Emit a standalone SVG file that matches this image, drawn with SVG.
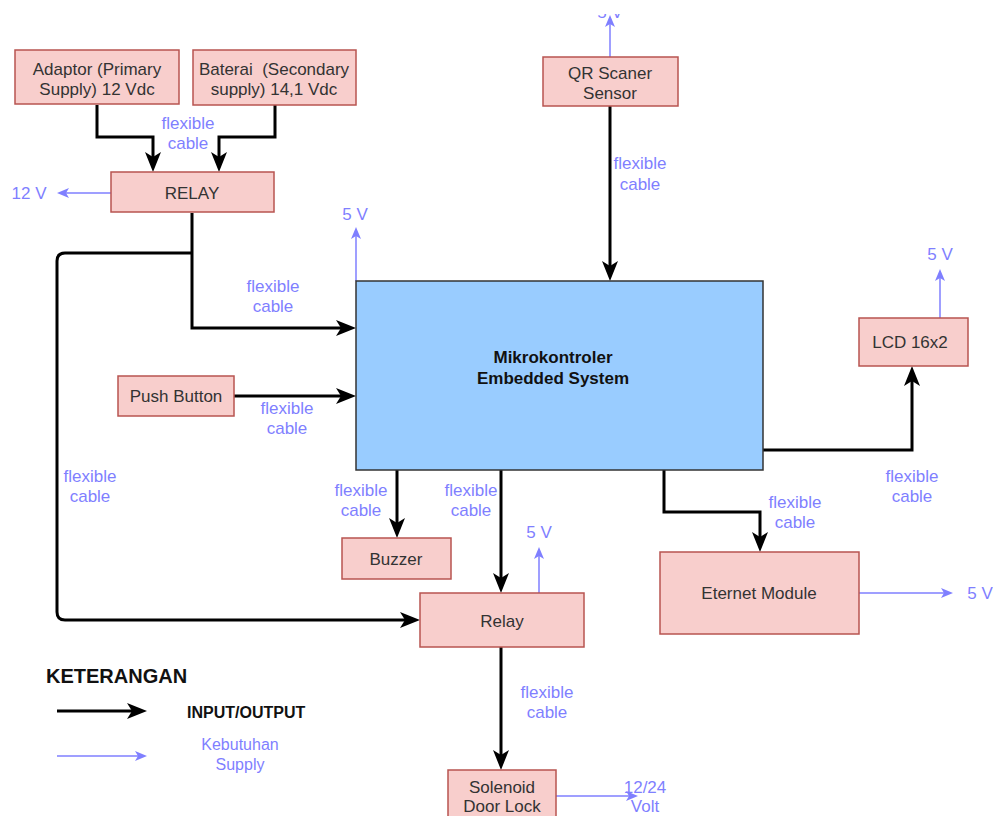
<svg xmlns="http://www.w3.org/2000/svg" width="993" height="816" viewBox="0 0 993 816">
<style>
.box{fill:#f8cecc;stroke:#b85450;stroke-width:1.5}
.t{font-family:"Liberation Sans",Arial,sans-serif;font-size:17px;fill:#333;text-anchor:middle}
.b{font-family:"Liberation Sans",Arial,sans-serif;font-size:17px;fill:#7f7fff;text-anchor:middle}
.k{fill:none;stroke:#000;stroke-width:3;marker-end:url(#ak)}
.s{fill:none;stroke:#7f7fff;stroke-width:1.5;marker-end:url(#ab)}
</style>
<defs>
<marker id="ak" viewBox="0 0 20 16" markerWidth="20" markerHeight="16" refX="10" refY="8" orient="auto" markerUnits="userSpaceOnUse"><path d="M0,0 L20,8 L0,16 L5,8 Z" fill="#000"/></marker>
<marker id="ab" viewBox="0 0 12 10" markerWidth="12" markerHeight="10" refX="6" refY="5" orient="auto" markerUnits="userSpaceOnUse"><path d="M0,0 L12,5 L0,10 L3,5 Z" fill="#7f7fff"/></marker>
<clipPath id="cq"><rect x="590" y="14" width="40" height="4"/></clipPath>
</defs>
<rect width="993" height="816" fill="#fff"/>

<g id="connectors">
<path class="k" d="M97,105 V137 H153 V162"/>
<path class="k" d="M275,105 V137 H219 V162"/>
<path class="s" d="M111,193 H63"/>
<path class="k" d="M192,213 V328 H346"/>
<path class="k" d="M192,253 H65 Q57,253 57,261 V612 Q57,620 65,620 H410"/>
<path class="k" d="M234,396 H346"/>
<path class="s" d="M610,57 V21"/>
<path class="k" d="M610,106 V271"/>
<path class="s" d="M356,281 V233"/>
<path class="k" d="M397,470 V528"/>
<path class="k" d="M501,470 V583"/>
<path class="s" d="M539,593 V553"/>
<path class="k" d="M501,647 V760"/>
<path class="s" d="M556,796 H632"/>
<path class="k" d="M763,450 H912 V376"/>
<path class="s" d="M940,318 V275"/>
<path class="k" d="M664,470 V512 H760 V542"/>
<path class="s" d="M859,593 H947"/>
<path class="k" d="M57,711 H137"/>
<path class="s" d="M57,756 H141"/>
</g>

<g id="labels">
<text class="b" x="188" y="129">flexible</text><text class="b" x="188" y="149">cable</text>
<text class="b" x="29" y="199">12 V</text>
<text class="b" x="610" y="18" clip-path="url(#cq)">5 V</text>
<text class="b" x="640" y="169">flexible</text><text class="b" x="640" y="190">cable</text>
<text class="b" x="355" y="220">5 V</text>
<text class="b" x="273" y="292">flexible</text><text class="b" x="273" y="312">cable</text>
<text class="b" x="287" y="414">flexible</text><text class="b" x="287" y="434">cable</text>
<text class="b" x="90" y="482">flexible</text><text class="b" x="90" y="502">cable</text>
<text class="b" x="361" y="496">flexible</text><text class="b" x="361" y="516">cable</text>
<text class="b" x="471" y="496">flexible</text><text class="b" x="471" y="516">cable</text>
<text class="b" x="539" y="538">5 V</text>
<text class="b" x="547" y="698">flexible</text><text class="b" x="547" y="718">cable</text>
<text class="b" x="645" y="793">12/24</text>
<text class="b" x="645" y="812">Volt</text>
<text class="b" x="940" y="260">5 V</text>
<text class="b" x="912" y="482">flexible</text><text class="b" x="912" y="502">cable</text>
<text class="b" x="795" y="508">flexible</text><text class="b" x="795" y="528">cable</text>
<text class="b" x="980" y="599">5 V</text>
</g>

<g id="adaptor"><rect class="box" x="15" y="50" width="164" height="54"/><text class="t" x="97" y="75">Adaptor (Primary</text><text class="t" x="97" y="95">Supply) 12 Vdc</text></g>
<g id="baterai"><rect class="box" x="193" y="50" width="163" height="55"/><text class="t" x="274" y="75" xml:space="preserve">Baterai  (Secondary</text><text class="t" x="274" y="95">supply) 14,1 Vdc</text></g>
<g id="relay-main"><rect class="box" x="111" y="172" width="163" height="40"/><text class="t" x="192" y="199">RELAY</text></g>
<g id="qr"><rect class="box" x="543" y="57" width="135" height="49"/><text class="t" x="610" y="79">QR Scaner</text><text class="t" x="610" y="99">Sensor</text></g>
<g id="micro"><rect x="356" y="281" width="407" height="189" fill="#99ccff" stroke="#333" stroke-width="1.5"/><text class="t" x="553" y="363" style="font-weight:bold;fill:#111">Mikrokontroler</text><text class="t" x="553" y="384" style="font-weight:bold;fill:#111">Embedded System</text></g>
<g id="push"><rect class="box" x="118" y="376" width="116" height="40"/><text class="t" x="176" y="402">Push Button</text></g>
<g id="lcd"><rect class="box" x="859" y="318" width="109" height="48"/><text class="t" x="910" y="348">LCD 16x2</text></g>
<g id="buzzer"><rect class="box" x="342" y="538" width="109" height="41"/><text class="t" x="396" y="565">Buzzer</text></g>
<g id="relay"><rect class="box" x="420" y="593" width="164" height="54"/><text class="t" x="502" y="627">Relay</text></g>
<g id="eternet"><rect class="box" x="660" y="552" width="199" height="82"/><text class="t" x="759" y="599">Eternet Module</text></g>
<g id="solenoid"><rect class="box" x="448" y="770" width="108" height="50"/><text class="t" x="502" y="793">Solenoid</text><text class="t" x="502" y="812">Door Lock</text></g>

<g id="legend">
<text x="46" y="683" style="font-family:'Liberation Sans',Arial,sans-serif;font-size:20px;font-weight:bold;fill:#111">KETERANGAN</text>
<text x="187" y="718" style="font-family:'Liberation Sans',Arial,sans-serif;font-size:16px;font-weight:bold;fill:#111">INPUT/OUTPUT</text>
<text class="b" x="240" y="750" style="font-size:16px">Kebutuhan</text>
<text class="b" x="240" y="770" style="font-size:16px">Supply</text>
</g>
</svg>
